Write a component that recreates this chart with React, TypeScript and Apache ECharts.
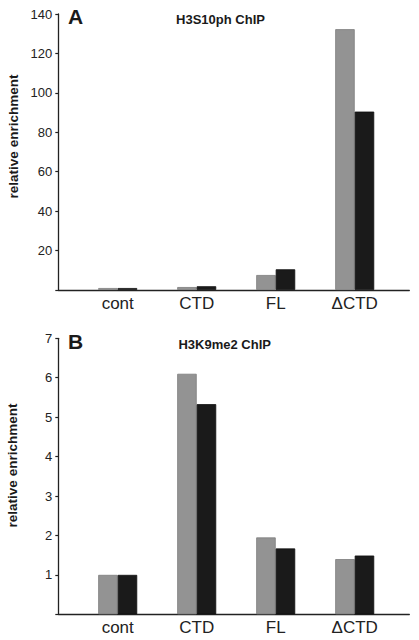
import React, { useEffect, useRef } from "react";
import * as echarts from "echarts";

const categories = ["cont", "CTD", "FL", "ΔCTD"];
const h3s10Gray = [1.0, 1.5, 7.6, 132.3];
const h3s10Black = [1.0, 1.9, 10.5, 90.5];
const h3k9Gray = [1.0, 6.1, 1.95, 1.4];
const h3k9Black = [1.0, 5.33, 1.67, 1.49];
const panelALetter = "A";
const panelBLetter = "B";
const panelATitle = "H3S10ph ChIP";
const panelBTitle = "H3K9me2 ChIP";
const yName = "relative enrichment";

const FONT = "'Liberation Sans', Arial, Helvetica, sans-serif";
const GRAY = "#939393";
const BLACK = "#1a1a1a";
const AXIS = "#222";

function pairs(vals: number[]) {
  return vals.map((v, i) => [i, v]);
}

export default function App() {
  const ref = useRef<HTMLDivElement>(null);
  useEffect(() => {
    if (!ref.current) return;
    const chart = echarts.init(ref.current, null, { renderer: "svg" });
    const xAxisCommon = (gridIndex: number) => ({
      type: "value" as const,
      gridIndex,
      min: -0.752,
      max: 3.691,
      axisLine: { show: true, onZero: false, lineStyle: { color: AXIS, width: 1.3 } },
      axisTick: { show: false },
      splitLine: { show: false },
      axisLabel: {
        customValues: [0, 1, 2, 3],
        formatter: (v: number) => categories[Math.round(v)] ?? "",
        fontFamily: FONT,
        fontSize: 17,
        color: "#222",
        margin: 5,
      },
    });
    const yAxisCommon = (gridIndex: number, max: number, interval: number) => ({
      type: "value" as const,
      gridIndex,
      min: 0,
      max,
      interval,
      axisLine: { show: true, onZero: false, lineStyle: { color: AXIS, width: 1.3 } },
      axisTick: { show: true, length: 3, lineStyle: { color: AXIS, width: 1.2 } },
      splitLine: { show: false },
      axisLabel: {
        formatter: (v: number) => (v === 0 ? "" : String(v)),
        fontFamily: FONT,
        fontSize: 13,
        color: "#222",
        margin: 6,
      },
    });
    const barCommon = {
      type: "bar" as const,
      barWidth: 19.5,
      barGap: "0%",
    };
    const grayStyle = { color: GRAY, borderColor: "#7c7c7c", borderWidth: 0.8 };
    const blackStyle = { color: BLACK, borderColor: "#111", borderWidth: 0.8 };
    const txt = (text: string, x: number, y: number, size: number, rot = 0) => ({
      type: "text" as const,
      x,
      y,
      rotation: rot,
      style: {
        text,
        fontFamily: FONT,
        fontSize: size,
        fontWeight: "bold" as const,
        fill: "#1a1a1a",
        align: "center" as const,
        verticalAlign: "middle" as const,
      },
    });
    chart.setOption({
      animation: false,
      backgroundColor: "#fff",
      grid: [
        { left: 58.3, right: 9.7, top: 14, height: 276 },
        { left: 58.3, right: 9.7, top: 338.3, height: 276 },
      ],
      xAxis: [xAxisCommon(0), xAxisCommon(1)],
      yAxis: [yAxisCommon(0, 140, 20), yAxisCommon(1, 7, 1)],
      series: [
        { ...barCommon, xAxisIndex: 0, yAxisIndex: 0, data: pairs(h3s10Gray), itemStyle: grayStyle },
        { ...barCommon, xAxisIndex: 0, yAxisIndex: 0, data: pairs(h3s10Black), itemStyle: blackStyle },
        { ...barCommon, xAxisIndex: 1, yAxisIndex: 1, data: pairs(h3k9Gray), itemStyle: grayStyle },
        { ...barCommon, xAxisIndex: 1, yAxisIndex: 1, data: pairs(h3k9Black), itemStyle: blackStyle },
      ],
      graphic: [
        txt(panelALetter, 75.5, 16, 21),
        txt(panelATitle, 220.5, 19.5, 13),
        txt(panelBLetter, 75.5, 341, 21),
        txt(panelBTitle, 224.7, 344, 13),
        txt(yName, 13.5, 136.5, 13.5, Math.PI / 2),
        txt(yName, 12.5, 465.5, 13.5, Math.PI / 2),
      ],
    });
    return () => chart.dispose();
  }, []);
  return (
    <div
      ref={ref}
      style={{ position: "fixed", left: 0, top: 0, width: 419, height: 640, background: "#fff" }}
    />
  );
}
